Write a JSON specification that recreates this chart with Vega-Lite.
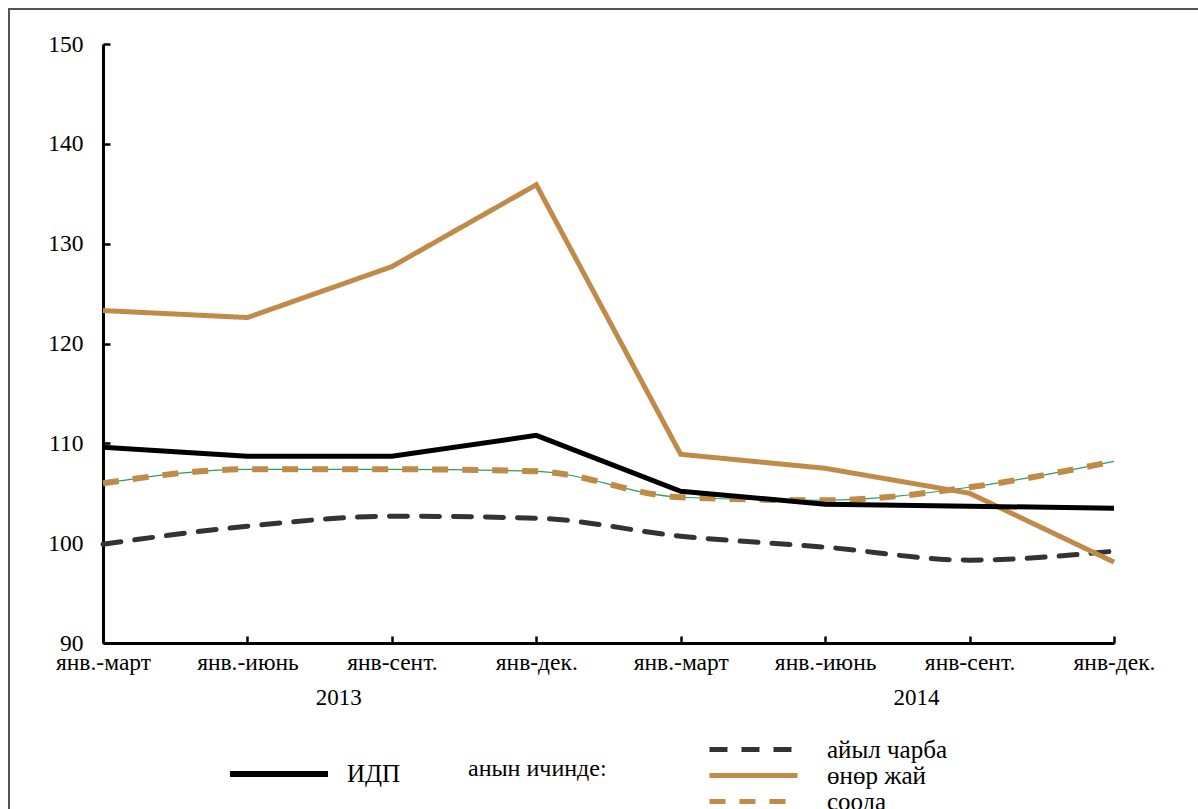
{
  "$schema": "https://vega.github.io/schema/vega-lite/v6.json",
  "width": 1195,
  "height": 805,
  "autosize": {"type": "none"},
  "padding": {"left": 9, "top": 9, "right": 0, "bottom": 0},
  "background": "white",
  "config": {
    "view": {"stroke": "#555555", "strokeWidth": 2},
    "font": "Liberation Serif",
    "axis": {"labelFont": "Liberation Serif", "labelColor": "#000000"},
    "legend": {"labelFont": "Liberation Serif", "titleFont": "Liberation Serif", "labelColor": "#000000", "titleColor": "#000000", "padding": 0},
    "text": {"font": "Liberation Serif"}
  },
  "datasets": {
    "series": [
      {"k": "2013|янв.-март", "s": "ИДП", "v": 109.6},
      {"k": "2013|янв.-июнь", "s": "ИДП", "v": 108.7},
      {"k": "2013|янв-сент.", "s": "ИДП", "v": 108.7},
      {"k": "2013|янв-дек.", "s": "ИДП", "v": 110.8},
      {"k": "2014|янв.-март", "s": "ИДП", "v": 105.2},
      {"k": "2014|янв.-июнь", "s": "ИДП", "v": 103.9},
      {"k": "2014|янв-сент.", "s": "ИДП", "v": 103.7},
      {"k": "2014|янв-дек.", "s": "ИДП", "v": 103.5},
      {"k": "2013|янв.-март", "s": "өнөр жай", "v": 123.3},
      {"k": "2013|янв.-июнь", "s": "өнөр жай", "v": 122.6},
      {"k": "2013|янв-сент.", "s": "өнөр жай", "v": 127.7},
      {"k": "2013|янв-дек.", "s": "өнөр жай", "v": 135.9},
      {"k": "2014|янв.-март", "s": "өнөр жай", "v": 108.9},
      {"k": "2014|янв.-июнь", "s": "өнөр жай", "v": 107.5},
      {"k": "2014|янв-сент.", "s": "өнөр жай", "v": 105.0},
      {"k": "2014|янв-дек.", "s": "өнөр жай", "v": 98.1},
      {"k": "2013|янв.-март", "s": "айыл чарба", "v": 99.9},
      {"k": "2013|янв.-июнь", "s": "айыл чарба", "v": 101.7},
      {"k": "2013|янв-сент.", "s": "айыл чарба", "v": 102.7},
      {"k": "2013|янв-дек.", "s": "айыл чарба", "v": 102.5},
      {"k": "2014|янв.-март", "s": "айыл чарба", "v": 100.7},
      {"k": "2014|янв.-июнь", "s": "айыл чарба", "v": 99.6},
      {"k": "2014|янв-сент.", "s": "айыл чарба", "v": 98.3},
      {"k": "2014|янв-дек.", "s": "айыл чарба", "v": 99.2},
      {"k": "2013|янв.-март", "s": "соода", "v": 106.0},
      {"k": "2013|янв.-июнь", "s": "соода", "v": 107.4},
      {"k": "2013|янв-сент.", "s": "соода", "v": 107.4},
      {"k": "2013|янв-дек.", "s": "соода", "v": 107.2},
      {"k": "2014|янв.-март", "s": "соода", "v": 104.6},
      {"k": "2014|янв.-июнь", "s": "соода", "v": 104.3},
      {"k": "2014|янв-сент.", "s": "соода", "v": 105.6},
      {"k": "2014|янв-дек.", "s": "соода", "v": 108.2}
    ],
    "years": [
      {"k": "2013|янв-сент.", "t": "2013"},
      {"k": "2014|янв-сент.", "t": "2014"}
    ]
  },
  "encoding": {
    "x": {
      "field": "k",
      "type": "ordinal",
      "sort": null,
      "scale": {
        "type": "point",
        "domain": ["2013|янв.-март", "2013|янв.-июнь", "2013|янв-сент.", "2013|янв-дек.", "2014|янв.-март", "2014|янв.-июнь", "2014|янв-сент.", "2014|янв-дек."],
        "range": [94, 1105],
        "padding": 0
      },
      "axis": {
        "title": null,
        "labelExpr": "split(datum.label, '|')[1]",
        "offset": -171,
        "domainColor": "#000000",
        "domainWidth": 3,
        "tickColor": "#000000",
        "tickWidth": 2.5,
        "tickSize": -7,
        "labelFontSize": 23.5,
        "labelPadding": 14,
        "labelAngle": 0,
        "grid": false
      }
    }
  },
  "layer": [
    {
      "data": {"name": "series"},
      "encoding": {
        "y": {
          "field": "v",
          "type": "quantitative",
          "scale": {"domain": [90, 150], "range": [634, 35], "nice": false, "zero": false},
          "axis": {
            "title": null,
            "values": [90, 100, 110, 120, 130, 140, 150],
            "offset": -94,
            "domainColor": "#000000",
            "domainWidth": 3,
            "tickColor": "#000000",
            "tickWidth": 2.5,
            "tickSize": -7,
            "labelFontSize": 23.5,
            "labelPadding": 27,
            "grid": false
          }
        }
      },
      "layer": [
        {
          "transform": [{"filter": "datum.s === 'соода'"}],
          "mark": {"type": "line", "color": "#2E9E5B", "strokeWidth": 1.2, "interpolate": "monotone"}
        },
        {
          "layer": [
            {
              "transform": [{"filter": "datum.s === 'соода'"}],
              "mark": {"type": "line", "strokeWidth": 6, "strokeCap": "butt", "interpolate": "monotone"}
            },
            {
              "transform": [{"filter": "datum.s === 'айыл чарба'"}],
              "mark": {"type": "line", "strokeWidth": 5, "strokeCap": "round", "interpolate": "monotone"}
            },
            {
              "transform": [{"filter": "datum.s === 'өнөр жай'"}],
              "mark": {"type": "line", "strokeWidth": 5, "strokeCap": "butt"}
            }
          ],
          "encoding": {
            "color": {
              "field": "s",
              "type": "nominal",
              "scale": {"domain": ["айыл чарба", "өнөр жай", "соода"], "range": ["#333333", "#C08A48", "#C08A48"]},
              "legend": {
                "orient": "none",
                "legendX": 459,
                "legendY": 728,
                "direction": "vertical",
                "title": "анын ичинде:",
                "titleOrient": "left",
                "titleAnchor": "middle",
                "titleBaseline": "alphabetic",
                "titleFontSize": 24,
                "titleFontWeight": "normal",
                "titlePadding": 134,
                "symbolType": "M-5,0H5",
                "symbolSize": 310,
                "symbolStrokeWidth": 5,
                "labelFontSize": 25,
                "labelOffset": 61,
                "rowPadding": 0
              }
            },
            "strokeDash": {
              "field": "s",
              "type": "nominal",
              "scale": {"domain": ["айыл чарба", "өнөр жай", "соода"], "range": [[18, 14], [1, 0], [16, 14]]}
            }
          }
        },
        {
          "transform": [{"filter": "datum.s === 'ИДП'"}],
          "mark": {"type": "line", "strokeWidth": 5, "strokeCap": "butt"},
          "encoding": {
            "color": {
              "field": "s",
              "type": "nominal",
              "scale": {"domain": ["ИДП"], "range": ["#000000"]},
              "legend": {
                "orient": "none",
                "legendX": 257,
                "legendY": 752,
                "title": null,
                "symbolType": "M-5,0H5",
                "symbolSize": 384,
                "symbolStrokeWidth": 6,
                "labelFontSize": 25,
                "labelOffset": 55
              }
            }
          }
        }
      ],
      "resolve": {"scale": {"color": "independent", "strokeDash": "independent"}}
    },
    {
      "data": {"name": "years"},
      "mark": {"type": "text", "fontSize": 23, "dx": -53, "dy": 55, "baseline": "middle", "align": "center", "color": "#000000"},
      "encoding": {
        "y": {"datum": 90, "type": "quantitative"},
        "text": {"field": "t", "type": "nominal"}
      }
    }
  ],
  "resolve": {"scale": {"color": "independent", "strokeDash": "independent"}}
}
